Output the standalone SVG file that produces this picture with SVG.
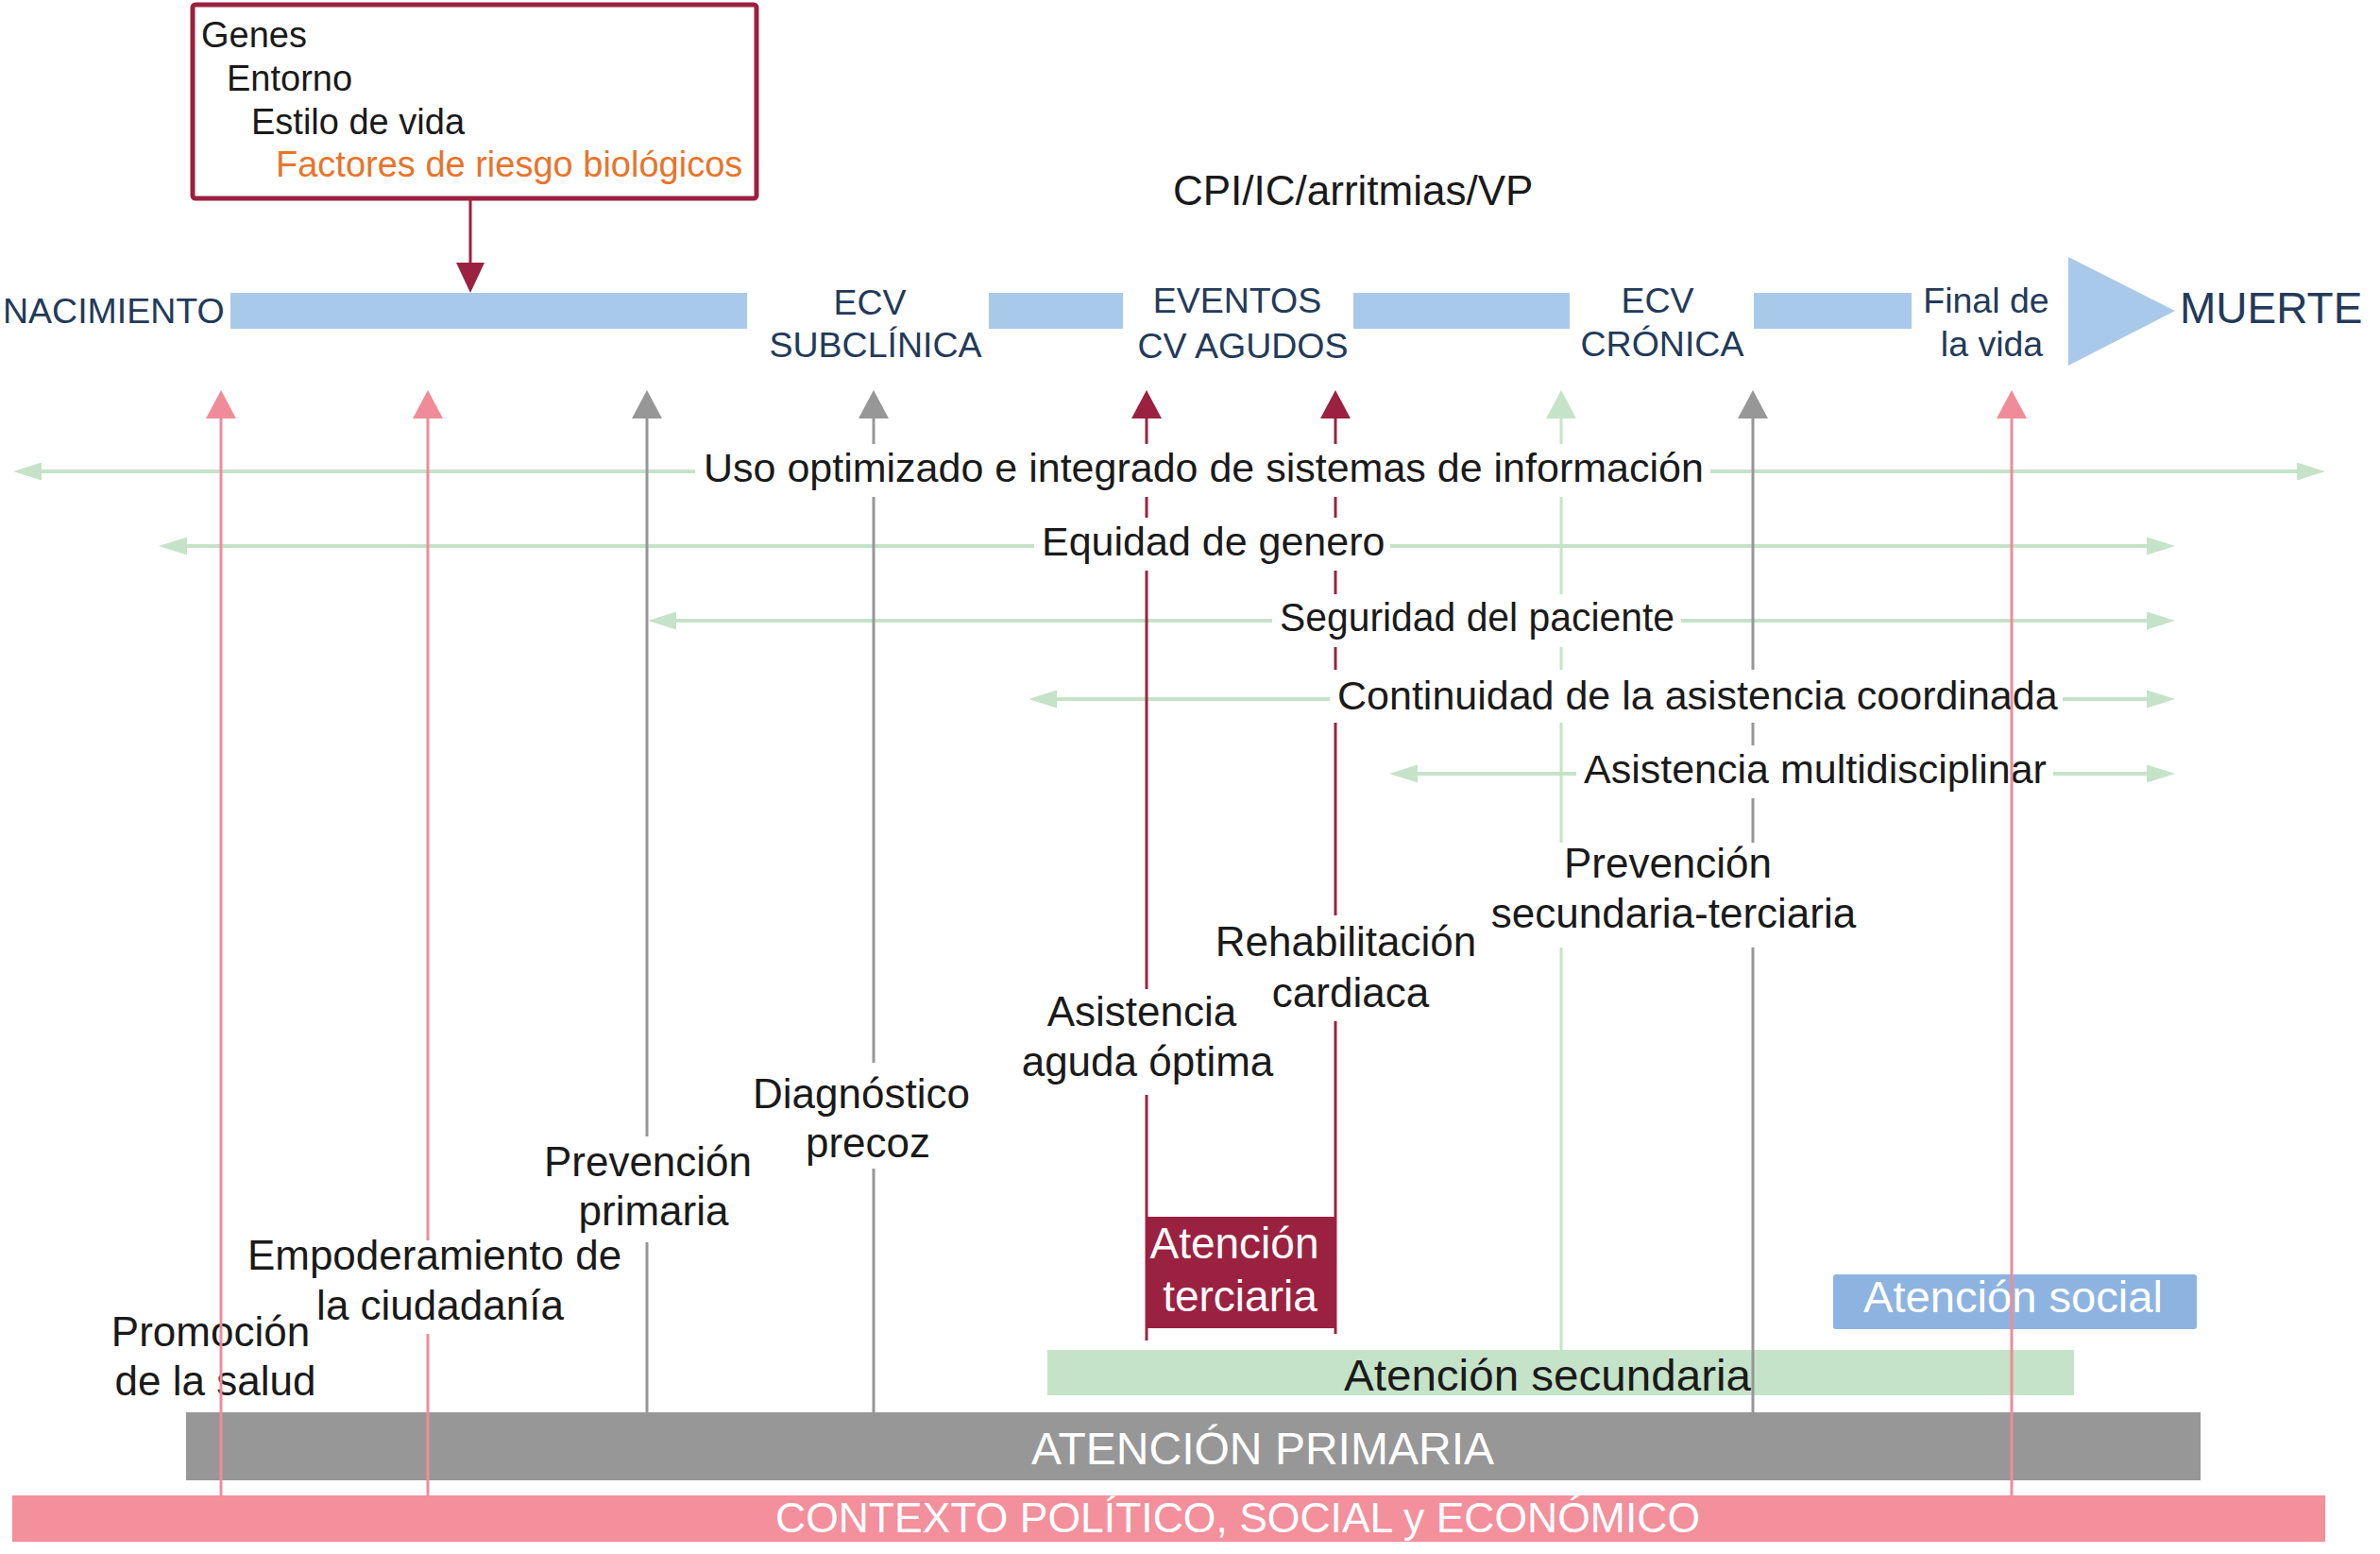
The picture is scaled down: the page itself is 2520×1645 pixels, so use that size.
<svg xmlns="http://www.w3.org/2000/svg" width="2520" height="1645" viewBox="0 0 2520 1645">
<style>
text{font-family:"Liberation Sans",Arial,Helvetica,sans-serif;}
.nav{fill:#233a59;font-size:37.5px;text-anchor:middle;}
.lbl{fill:#1a1a1a;font-size:44px;text-anchor:middle;}
.hl{fill:#1a1a1a;font-size:43px;}
.box{fill:#1a1a1a;font-size:38px;}
.wh{fill:#ffffff;}
.bar{fill:#a9c9ea;}
.hline{stroke:#c5e3c8;stroke-width:4;fill:none;marker-end:url(#mh);}
.vp{stroke:#f08c99;stroke-width:3;fill:none;}
.vg{stroke:#979797;stroke-width:3;fill:none;}
.vc{stroke:#9b2141;stroke-width:3;fill:none;}
.vgr{stroke:#c5e3c8;stroke-width:3;fill:none;}
.bg{fill:#ffffff;}
</style>
<defs>
<marker id="mp" markerUnits="userSpaceOnUse" viewBox="0 0 30 32" markerWidth="30" markerHeight="32" refX="0" refY="16" orient="auto"><path d="M0,0 L30,16 L0,32 z" fill="#f08c99"/></marker>
<marker id="mg" markerUnits="userSpaceOnUse" viewBox="0 0 30 32" markerWidth="30" markerHeight="32" refX="0" refY="16" orient="auto"><path d="M0,0 L30,16 L0,32 z" fill="#979797"/></marker>
<marker id="mc" markerUnits="userSpaceOnUse" viewBox="0 0 30 32" markerWidth="30" markerHeight="32" refX="0" refY="16" orient="auto"><path d="M0,0 L30,16 L0,32 z" fill="#9b2141"/></marker>
<marker id="mgr" markerUnits="userSpaceOnUse" viewBox="0 0 30 32" markerWidth="30" markerHeight="32" refX="0" refY="16" orient="auto"><path d="M0,0 L30,16 L0,32 z" fill="#c5e3c8"/></marker>
<marker id="mh" markerUnits="userSpaceOnUse" viewBox="0 0 30 19" markerWidth="30" markerHeight="19" refX="0" refY="9.5" orient="auto"><path d="M0,0 L30,9.5 L0,19 z" fill="#c5e3c8"/></marker>
<marker id="mtop" markerUnits="userSpaceOnUse" viewBox="0 0 32 30" markerWidth="32" markerHeight="30" refX="0" refY="15" orient="auto"><path d="M0,0 L32,15 L0,30 z" fill="#9b2141"/></marker>
</defs>

<!-- Bottom bars -->
<g id="contexto">
<rect x="13" y="1583" width="2449" height="49" fill="#f48f9c"/>
<text x="821" y="1622" class="wh" font-size="44" textLength="979" lengthAdjust="spacingAndGlyphs">CONTEXTO POLÍTICO, SOCIAL y ECONÓMICO</text>
</g>
<g id="atencion-primaria">
<rect x="197" y="1495" width="2133" height="72" fill="#979797"/>
<text x="1092" y="1550" class="wh" font-size="47.5" textLength="490" lengthAdjust="spacingAndGlyphs">ATENCIÓN PRIMARIA</text>
</g>
<g id="atencion-secundaria">
<rect x="1109" y="1429" width="1087" height="48" fill="#c5e3c8"/>
<text x="1423" y="1472" fill="#1a1a1a" font-size="47" textLength="431" lengthAdjust="spacingAndGlyphs">Atención secundaria</text>
</g>
<g id="atencion-social">
<rect x="1941" y="1349" width="385" height="58" rx="3" fill="#8db4e1"/>
<text x="1973" y="1389" class="wh" font-size="47" textLength="317" lengthAdjust="spacingAndGlyphs">Atención social</text>
</g>
<g id="atencion-terciaria">
<rect x="1214" y="1288" width="200" height="118" fill="#9b2141"/>
<text x="1307" y="1332" class="wh" font-size="46" text-anchor="middle">Atención</text>
<text x="1313" y="1388" class="wh" font-size="46" text-anchor="middle">terciaria</text>
</g>

<!-- Top factors box -->
<g id="factores">
<rect x="204" y="5" width="597" height="205" rx="3" fill="#ffffff" stroke="#9b2141" stroke-width="5"/>
<text x="213" y="50" class="box">Genes</text>
<text x="240" y="96" class="box">Entorno</text>
<text x="266" y="142" class="box">Estilo de vida</text>
<text x="292" y="187" class="box" style="fill:#e8742c">Factores de riesgo biológicos</text>
</g>

<!-- Timeline -->
<g id="timeline">
<rect x="244" y="310" width="547" height="38" class="bar"/>
<rect x="1047" y="310" width="142" height="38" class="bar"/>
<rect x="1433" y="310" width="229" height="38" class="bar"/>
<rect x="1857" y="310" width="167" height="38" class="bar"/>
<polygon points="2190,272 2303,329 2190,387" fill="#a9c9ea"/>
</g>
<g id="nacimiento"><text x="3" y="342" fill="#233a59" font-size="37.5">NACIMIENTO</text></g>
<g id="ecv-subclinica"><text x="921" y="333" class="nav">ECV</text><text x="927" y="378" class="nav">SUBCLÍNICA</text></g>
<g id="eventos"><text x="1310" y="331" class="nav">EVENTOS</text><text x="1316" y="379" class="nav">CV AGUDOS</text></g>
<g id="ecv-cronica"><text x="1755" y="331" class="nav">ECV</text><text x="1760" y="377" class="nav">CRÓNICA</text></g>
<g id="final-vida"><text x="2103" y="331" class="nav">Final de</text><text x="2109" y="377" class="nav">la vida</text></g>
<g id="muerte"><text x="2308" y="342" fill="#233a59" font-size="46">MUERTE</text></g>
<g id="cpi"><text x="1242" y="217" fill="#1a1a1a" font-size="44">CPI/IC/arritmias/VP</text></g>

<!-- Connectors -->
<g id="connectors">
<line x1="498" y1="212" x2="498" y2="278" stroke="#9b2141" stroke-width="3" marker-end="url(#mtop)"/>
<!-- horizontal green arrows -->
<line x1="736" y1="499" x2="44" y2="499" class="hline"/>
<line x1="1806" y1="499" x2="2432" y2="499" class="hline"/>
<line x1="1095" y1="578" x2="198" y2="578" class="hline"/>
<line x1="1472" y1="578" x2="2273" y2="578" class="hline"/>
<line x1="1347" y1="657" x2="716" y2="657" class="hline"/>
<line x1="1780" y1="657" x2="2273" y2="657" class="hline"/>
<line x1="1408" y1="740" x2="1119" y2="740" class="hline"/>
<line x1="2184" y1="740" x2="2273" y2="740" class="hline"/>
<line x1="1669" y1="819" x2="1501" y2="819" class="hline"/>
<line x1="2174" y1="819" x2="2273" y2="819" class="hline"/>
<!-- vertical arrows (non-pink) -->
<line x1="685" y1="1495" x2="685" y2="443" class="vg" marker-end="url(#mg)"/>
<line x1="925" y1="1495" x2="925" y2="443" class="vg" marker-end="url(#mg)"/>
<line x1="1856" y1="1495" x2="1856" y2="443" class="vg" marker-end="url(#mg)"/>
<line x1="1214" y1="1419" x2="1214" y2="443" class="vc" marker-end="url(#mc)"/>
<line x1="1414" y1="1412" x2="1414" y2="443" class="vc" marker-end="url(#mc)"/>
<line x1="1653" y1="1429" x2="1653" y2="443" class="vgr" marker-end="url(#mgr)"/>
</g>

<!-- Label backgrounds and labels -->
<g id="uso-info"><rect x="737" y="470" width="1074" height="56" class="bg"/><text x="745" y="510" class="hl">Uso optimizado e integrado de sistemas de información</text></g>
<g id="equidad"><rect x="1096" y="548" width="376" height="56" class="bg"/><text x="1103" y="588" class="hl">Equidad de genero</text></g>
<g id="seguridad"><rect x="1348" y="629" width="432" height="56" class="bg"/><text x="1355" y="668" class="hl" textLength="418" lengthAdjust="spacingAndGlyphs">Seguridad del paciente</text></g>
<g id="continuidad"><rect x="1409" y="709" width="775" height="56" class="bg"/><text x="1416" y="751" class="hl">Continuidad de la asistencia coordinada</text></g>
<g id="multidisciplinar"><rect x="1670" y="789" width="504" height="56" class="bg"/><text x="1677" y="829" class="hl">Asistencia multidisciplinar</text></g>

<g id="prev-sec-ter"><rect x="1572" y="892" width="400" height="111" class="bg"/><text x="1766" y="929" class="lbl">Prevención</text><text x="1772" y="982" class="lbl">secundaria-terciaria</text></g>
<g id="asistencia-aguda"><rect x="1150" y="1047" width="130" height="112" class="bg"/><text x="1209" y="1086" class="lbl">Asistencia</text><text x="1215" y="1139" class="lbl">aguda óptima</text></g>
<g id="rehabilitacion"><rect x="1350" y="969" width="130" height="112" class="bg"/><text x="1425" y="1012" class="lbl">Rehabilitación</text><text x="1430" y="1066" class="lbl">cardiaca</text></g>
<g id="diagnostico"><rect x="792" y="1125" width="240" height="112" class="bg"/><text x="912" y="1173" class="lbl">Diagnóstico</text><text x="919" y="1225" class="lbl">precoz</text></g>
<g id="prev-primaria"><rect x="571" y="1203" width="230" height="112" class="bg"/><text x="686" y="1245" class="lbl">Prevención</text><text x="692" y="1297" class="lbl">primaria</text></g>
<g id="empoderamiento"><rect x="256" y="1305" width="408" height="108" class="bg"/><text x="460" y="1344" class="lbl">Empoderamiento de</text><text x="466" y="1397" class="lbl">la ciudadanía</text></g>
<g id="promocion"><text x="223" y="1425" class="lbl">Promoción</text><text x="228" y="1477" class="lbl">de la salud</text></g>

<!-- pink arrows on top -->
<g id="connectors-pink">
<line x1="234" y1="1583" x2="234" y2="443" class="vp" marker-end="url(#mp)"/>
<line x1="453" y1="1313" x2="453" y2="443" class="vp" marker-end="url(#mp)"/>
<line x1="453" y1="1583" x2="453" y2="1412" class="vp"/>
<line x1="2130" y1="1583" x2="2130" y2="443" class="vp" marker-end="url(#mp)"/>
</g>
</svg>
